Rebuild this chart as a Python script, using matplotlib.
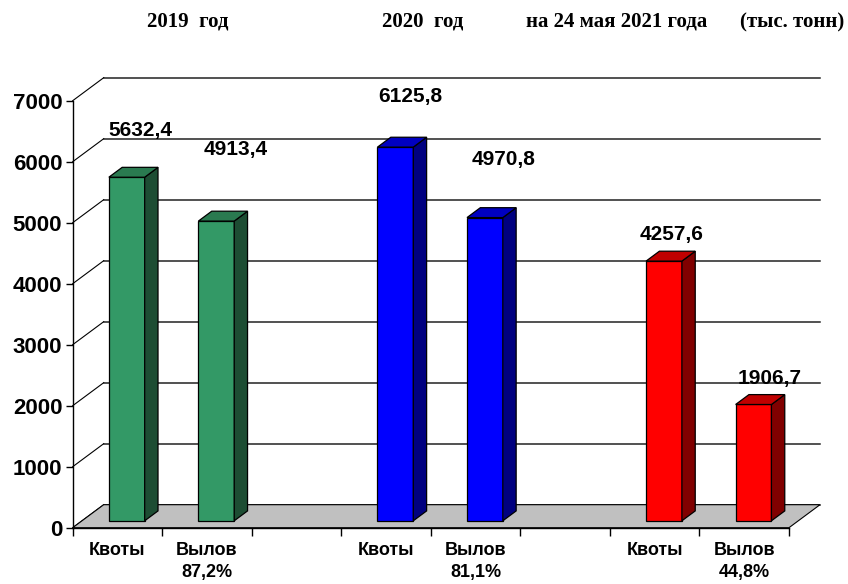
import matplotlib
matplotlib.use('Agg')
import matplotlib.pyplot as plt
from matplotlib.patches import Polygon

# данные, тыс. тонн
slots = ['Квоты', 'Вылов', '', 'Квоты', 'Вылов', '', 'Квоты', 'Вылов']
pct = ['', '87,2%', '', '', '81,1%', '', '', '44,8%']
bar_slot = [0, 1, 3, 4, 6, 7]
values = [5632.4, 4913.4, 6125.8, 4970.8, 4257.6, 1906.7]
labels = ['5632,4', '4913,4', '6125,8', '4970,8', '4257,6', '1906,7']
yticks = [0, 1000, 2000, 3000, 4000, 5000, 6000, 7000]
titles = ['2019  год', '2020  год', 'на 24 мая 2021 года', '(тыс. тонн)']

# оформление
front_c = ['#339966', '#339966', '#0000ff', '#0000ff', '#ff0000', '#ff0000']
side_c = ['#1d4d33', '#1d4d33', '#000080', '#000080', '#800000', '#800000']
top_c = ['#2a7a50', '#2a7a50', '#0000c0', '#0000c0', '#c00000', '#c00000']
lab_off = [(14, 47), (19, 72), (15, 51), (19, 58), (8, 27), (16, 26)]
title_x = [147, 382, 526, 740]

W, H = 848, 584
fig = plt.figure(figsize=(W / 100, H / 100), dpi=100)
ax = fig.add_axes([72.7 / W, (H - 527.7) / H, (789 - 72.7) / W, (527.7 - 100.7) / H])
ax.set_xlim(0, 8)
ax.set_ylim(0, 7000)

# глубина "3D" в пикселях -> в единицах данных
DX = 31 / ((789 - 72.7) / 8)
DY = 23 / ((527.7 - 100.7) / 7000)


def P(x, v, d):
    return (x + d * DX, v + d * DY)


# задняя стенка: линии сетки
for v in yticks:
    a, b = P(0, v, 1), P(8, v, 1)
    ax.plot([a[0], b[0]], [a[1], b[1]], color='#222222', lw=1.1, clip_on=False, zorder=1)
    c = P(0, v, 0)
    ax.plot([c[0], a[0]], [c[1], a[1]], color='black', lw=0.8, clip_on=False, zorder=1)

# пол
floor = Polygon([P(0, 0, 0), P(8, 0, 0), P(8, 0, 1), P(0, 0, 1)], closed=True,
                facecolor='#c0c0c0', edgecolor='black', lw=0.8, clip_on=False, zorder=2)
ax.add_patch(floor)

# столбики
d0, d1 = 0.3, 0.73
for k, (s, v) in enumerate(zip(bar_slot, values)):
    x0, x1 = s + 0.3, s + 0.7
    faces = [
        ([P(x0, 0, d0), P(x1, 0, d0), P(x1, v, d0), P(x0, v, d0)], front_c[k]),
        ([P(x1, 0, d0), P(x1, 0, d1), P(x1, v, d1), P(x1, v, d0)], side_c[k]),
        ([P(x0, v, d0), P(x1, v, d0), P(x1, v, d1), P(x0, v, d1)], top_c[k]),
    ]
    for pts, col in faces:
        ax.add_patch(Polygon(pts, closed=True, facecolor=col, edgecolor='black',
                             lw=0.9, clip_on=False, zorder=3))
    ax.annotate(labels[k], xy=P(s + 0.5, v, d0), xytext=lab_off[k],
                textcoords='offset pixels', ha='center', va='center',
                fontsize=15, fontweight='bold', family='Liberation Sans', zorder=5)

# оси
for sp in ['top', 'right']:
    ax.spines[sp].set_visible(False)
ax.spines['left'].set_linewidth(1.0)
ax.spines['bottom'].set_linewidth(1.0)
ax.spines['bottom'].set_zorder(4)
ax.patch.set_visible(False)

ax.set_yticks(yticks)
ax.set_yticklabels([str(t) for t in yticks], fontsize=16, fontweight='bold', family='Liberation Sans')
ax.tick_params(axis='y', direction='out', length=4.7, width=1, pad=2.8)

ax.set_xticks(range(9))
ax.set_xticklabels([])
ax.tick_params(axis='x', which='major', direction='out', length=5.8, width=1)
ax.set_xticks([i + 0.5 for i in range(8)], minor=True)
ax.set_xticklabels([(n + '\n' + p) if p else n for n, p in zip(slots, pct)], minor=True,
                   fontsize=13, fontweight='bold', family='Liberation Sans', linespacing=1.4)
ax.tick_params(axis='x', which='minor', length=0, pad=10.3)

for t, x in zip(titles, title_x):
    fig.text(x / W, 1 - 27 / H, t, ha='left', va='baseline', fontsize=15,
             fontweight='bold', family='Liberation Serif')

fig.savefig('out.png', dpi=100)
